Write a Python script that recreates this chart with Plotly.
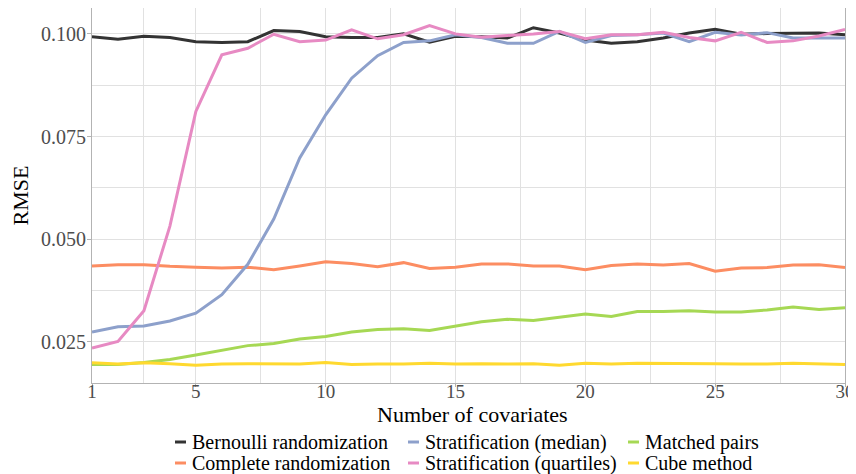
import plotly.graph_objects as go

covariates = [1, 2, 3, 4, 5, 6, 7, 8, 9, 10, 11, 12, 13, 14, 15,
              16, 17, 18, 19, 20, 21, 22, 23, 24, 25, 26, 27, 28, 29, 30]

bernoulli = [0.0993, 0.0987, 0.0994, 0.0991, 0.0981, 0.0979, 0.0981, 0.1008, 0.1006, 0.0993,
             0.0991, 0.0991, 0.1000, 0.0980, 0.0994, 0.0993, 0.0990, 0.1015, 0.1002, 0.0985,
             0.0977, 0.0981, 0.0990, 0.1002, 0.1011, 0.0999, 0.1001, 0.1001, 0.1002, 0.0998]
complete = [0.0435, 0.0438, 0.0438, 0.0434, 0.0432, 0.0430, 0.0432, 0.0426, 0.0435, 0.0445,
            0.0441, 0.0433, 0.0443, 0.0429, 0.0432, 0.0440, 0.0440, 0.0435, 0.0435, 0.0426,
            0.0436, 0.0440, 0.0437, 0.0441, 0.0422, 0.0430, 0.0431, 0.0437, 0.0438, 0.0431]
strat_median = [0.0274, 0.0287, 0.0289, 0.0301, 0.0320, 0.0365, 0.0439, 0.0549, 0.0698, 0.0803,
                0.0892, 0.0947, 0.0979, 0.0983, 0.0998, 0.0991, 0.0977, 0.0977, 0.1006, 0.0979,
                0.0996, 0.0998, 0.1002, 0.0981, 0.1004, 0.0997, 0.1003, 0.0990, 0.0990, 0.0990]
strat_quartiles = [0.0235, 0.0251, 0.0326, 0.0532, 0.0811, 0.0949, 0.0965, 0.0999, 0.0981, 0.0985,
                   0.1010, 0.0988, 0.0998, 0.1020, 0.1000, 0.0992, 0.0996, 0.1000, 0.1006, 0.0988,
                   0.0998, 0.0998, 0.1004, 0.0991, 0.0983, 0.1004, 0.0979, 0.0983, 0.0995, 0.1011]
matched_pairs = [0.0195, 0.0195, 0.0200, 0.0207, 0.0218, 0.0230, 0.0241, 0.0246, 0.0257, 0.0263,
                 0.0274, 0.0280, 0.0282, 0.0278, 0.0289, 0.0299, 0.0305, 0.0302, 0.0310, 0.0318,
                 0.0312, 0.0324, 0.0324, 0.0326, 0.0323, 0.0323, 0.0328, 0.0335, 0.0329, 0.0333]
cube = [0.0199, 0.0196, 0.0199, 0.0197, 0.0193, 0.0196, 0.0197, 0.0196, 0.0196, 0.0200,
        0.0195, 0.0196, 0.0196, 0.0198, 0.0196, 0.0197, 0.0196, 0.0197, 0.0193, 0.0198,
        0.0196, 0.0198, 0.0198, 0.0198, 0.0197, 0.0196, 0.0196, 0.0198, 0.0196, 0.0195]

method_names = ["Bernoulli randomization", "Complete randomization", "Stratification (median)",
                "Stratification (quartiles)", "Matched pairs", "Cube method"]
method_values = [bernoulli, complete, strat_median, strat_quartiles, matched_pairs, cube]
method_colors = ["#333333", "#FC8D62", "#8DA0CB", "#E78AC3", "#A6D854", "#FFD92F"]

x_title = "Number of covariates"
y_title = "RMSE"
x_ticks = [1, 5, 10, 15, 20, 25, 30]
x_minor = [3, 7.5, 12.5, 17.5, 22.5, 27.5]
y_ticks = [0.025, 0.050, 0.075, 0.100]
y_tick_labels = ["0.025", "0.050", "0.075", "0.100"]
y_minor = [0.0375, 0.0625, 0.0875]

FONT = "Liberation Serif"
# the page body has an 8px margin; size the figure so the plot panel lands
# at screen x 92..845, y 8..383 inside the 856x474 window
OFF = 8
W, H = 856 - OFF, 474 - OFF
PLOT_L, PLOT_R, PLOT_T, PLOT_B = 92, 845, 8, 383
ML, MR = PLOT_L - OFF, 856 - PLOT_R
MT, MB = PLOT_T - OFF, 474 - PLOT_B
PW, PH = PLOT_R - PLOT_L, PLOT_B - PLOT_T

fig = go.Figure()
for name, vals, col in zip(method_names, method_values, method_colors):
    fig.add_trace(go.Scatter(x=covariates, y=vals, mode="lines", name=name,
                             line=dict(color=col, width=3), showlegend=False))

# legend laid out like the reference: 2 rows x 3 columns, filled column-wise
col_left_px = [175, 408, 628]
row_center_px = [442, 463]
key_len = 11
shapes, annotations = [], []
for i, (name, col) in enumerate(zip(method_names, method_colors)):
    c, r = divmod(i, 2)
    x0 = col_left_px[c]
    yp = (PLOT_B - row_center_px[r]) / PH
    shapes.append(dict(type="line", xref="paper", yref="paper",
                       x0=(x0 - PLOT_L) / PW, x1=(x0 + key_len - PLOT_L) / PW, y0=yp, y1=yp,
                       line=dict(color=col, width=3)))
    annotations.append(dict(text=name, xref="paper", yref="paper",
                            x=(x0 + key_len + 4 - PLOT_L) / PW, y=yp,
                            xanchor="left", yanchor="middle", showarrow=False,
                            font=dict(family=FONT, size=20, color="#000000")))

# x-axis title placed just under the tick labels, as in the reference
annotations.append(dict(text=x_title, xref="paper", yref="paper",
                        x=(472 - PLOT_L) / PW, y=(PLOT_B - 414) / PH,
                        xanchor="center", yanchor="middle", showarrow=False,
                        font=dict(family=FONT, size=22, color="#000000")))

grid = "#E1E1E1"
fig.update_layout(
    width=W, height=H,
    margin=dict(l=ML, r=MR, t=MT, b=MB, pad=0, autoexpand=False),
    paper_bgcolor="white", plot_bgcolor="white",
    font=dict(family=FONT, size=20, color="#000000"),
    showlegend=False,
    shapes=shapes, annotations=annotations,
    xaxis=dict(range=[1, 30], tickmode="array", tickvals=x_ticks, automargin=False,
               ticks="outside", ticklen=3, tickcolor="#B3B3B3", ticklabelstandoff=-12,
               tickfont=dict(family=FONT, size=19, color="#4D4D4D"),
               showgrid=True, gridcolor=grid, gridwidth=1.2,
               minor=dict(tickmode="array", tickvals=x_minor, showgrid=True,
                          gridcolor=grid, gridwidth=1, ticks=""),
               showline=True, linecolor="#B3B3B3", linewidth=1, mirror=True,
               zeroline=False),
    yaxis=dict(range=[0.0150, 0.1063], tickmode="array", tickvals=y_ticks,
               ticktext=y_tick_labels, automargin=True,
               ticks="outside", ticklen=4, tickcolor="#B3B3B3", ticklabelstandoff=-3,
               tickfont=dict(family=FONT, size=20, color="#4D4D4D"),
               showgrid=True, gridcolor=grid, gridwidth=1.2,
               minor=dict(tickmode="array", tickvals=y_minor, showgrid=True,
                          gridcolor=grid, gridwidth=1, ticks=""),
               showline=True, linecolor="#B3B3B3", linewidth=1, mirror=True,
               zeroline=False,
               title=dict(text=y_title, standoff=16,
                          font=dict(family=FONT, size=22, color="#000000"))),
)

fig.write_html("out.html")
